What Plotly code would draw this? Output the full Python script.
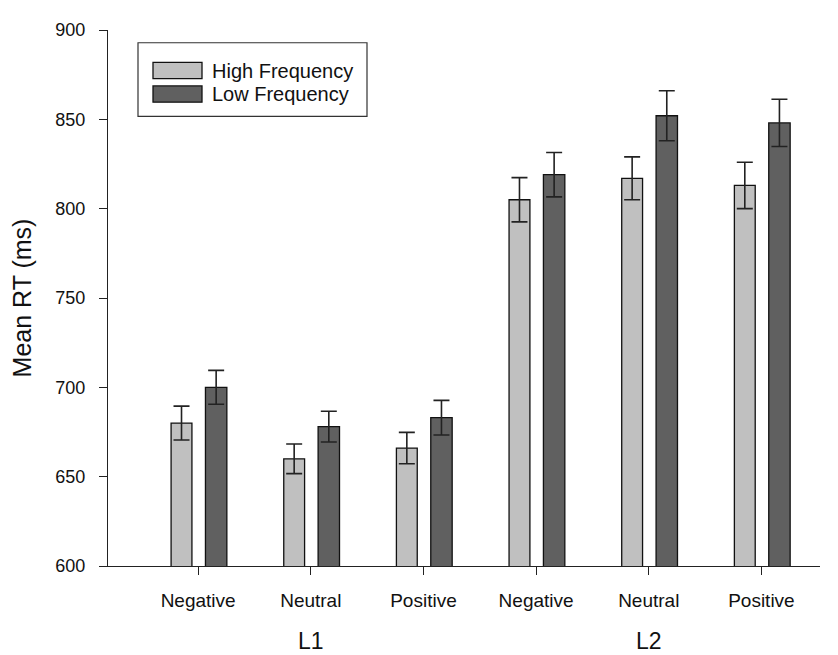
import numpy as np
import plotly.graph_objects as go

# ---- data ----
conditions = ["Negative", "Neutral", "Positive", "Negative", "Neutral", "Positive"]
groups = ["L1", "L2"]
group_centers = [1, 4]  # index of middle condition in each group
high_freq = [680, 660, 666, 805, 817, 813]
high_err = [9.5, 8.3, 8.8, 12.4, 12.0, 13.0]
low_freq = [700, 678, 683, 819, 852, 848]
low_err = [9.5, 8.6, 9.7, 12.4, 14.0, 13.2]
series_names = ["High Frequency", "Low Frequency"]
y_ticks = [600, 650, 700, 750, 800, 850, 900]

# ---- styling ----
OFF = 8  # page body margin of the browser
W, H = 838 - OFF, 655 - OFF
ML, MR, MT, MB = 100, 18, 12, 89
FONT = "Arial, 'Liberation Sans', sans-serif"
HF_COLOR = "#c0c0c0"
LF_COLOR = "#606060"
EDGE = "#111111"
TXT = "#111111"

xpos = np.arange(len(conditions))

fig = go.Figure()
fig.add_trace(go.Bar(
    x=xpos, y=high_freq, name=series_names[0],
    offset=-0.24, width=0.185,
    marker=dict(color=HF_COLOR, line=dict(color=EDGE, width=1.3)),
    error_y=dict(type="data", array=high_err, color="#222222", thickness=1.6, width=8),
    showlegend=False,
))
fig.add_trace(go.Bar(
    x=xpos, y=low_freq, name=series_names[1],
    offset=0.065, width=0.19,
    marker=dict(color=LF_COLOR, line=dict(color=EDGE, width=1.3)),
    error_y=dict(type="data", array=low_err, color="#222222", thickness=1.6, width=8),
    showlegend=False,
))

# plot area in screenshot pixels
PL = OFF + ML
PR = OFF + W - MR
PT = OFF + MT
PB = OFF + H - MB
pw = PR - PL
ph = PB - PT


def px_x(px):
    return (px - PL) / pw


def px_y(py):
    return (PB - py) / ph


# custom legend (box, swatches, labels)
shapes = [dict(type="rect", xref="paper", yref="paper",
               x0=px_x(138), x1=px_x(367), y0=px_y(108), y1=px_y(33),
               line=dict(color="#333333", width=1.2), fillcolor="rgba(0,0,0,0)")]
annotations = []
for i, (nm, col) in enumerate(zip(series_names, [HF_COLOR, LF_COLOR])):
    top = 53 + i * 24
    shapes.append(dict(type="rect", xref="paper", yref="paper",
                       x0=px_x(153), x1=px_x(202), y0=px_y(top + 16.5), y1=px_y(top),
                       line=dict(color=EDGE, width=1.3), fillcolor=col))
    annotations.append(dict(text=nm, xref="paper", yref="paper",
                            x=px_x(210), y=px_y(top + 8.5), xanchor="left", yanchor="middle",
                            showarrow=False, font=dict(family=FONT, size=20, color=TXT)))

for g, c in zip(groups, group_centers):
    annotations.append(dict(text=g, xref="x", yref="paper", x=c, y=px_y(642),
                            xanchor="center", yanchor="middle", showarrow=False,
                            font=dict(family=FONT, size=23, color=TXT)))

fig.update_layout(
    width=W, height=H,
    margin=dict(l=ML, r=MR, t=MT, b=MB),
    plot_bgcolor="white", paper_bgcolor="white",
    barmode="overlay",
    font=dict(family=FONT, size=18, color=TXT),
    shapes=shapes,
    annotations=annotations,
    xaxis=dict(
        range=[-0.8, 5.52],
        tickmode="array", tickvals=xpos, ticktext=conditions,
        showline=True, linecolor="#222222", linewidth=1.2,
        ticks="outside", ticklen=8, tickwidth=1.2, tickcolor="#222222",
        ticklabelstandoff=9,
        tickfont=dict(family=FONT, size=19, color=TXT),
        showgrid=False, zeroline=False,
    ),
    yaxis=dict(
        range=[600, 900],
        tickmode="array", tickvals=y_ticks,
        showline=True, linecolor="#222222", linewidth=1.2,
        ticks="outside", ticklen=8, tickwidth=1.2, tickcolor="#222222",
        ticklabelstandoff=10,
        tickfont=dict(family=FONT, size=18, color=TXT),
        showgrid=False, zeroline=False,
        title=dict(text="Mean RT (ms)", standoff=18,
                   font=dict(family=FONT, size=25, color=TXT)),
    ),
)

fig.write_html("out.html")
